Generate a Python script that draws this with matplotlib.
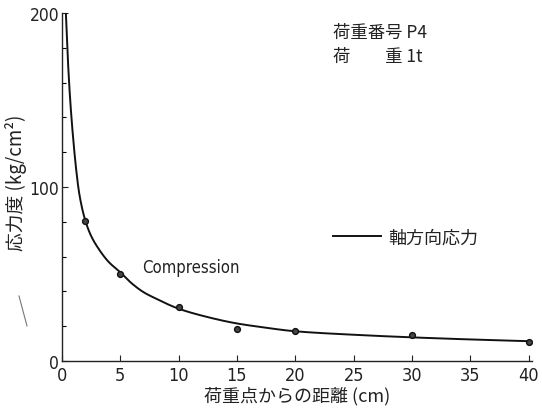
import matplotlib
matplotlib.use("Agg")
import matplotlib.pyplot as plt
from matplotlib.ticker import MultipleLocator
import numpy as np

plt.rcParams['font.family'] = ['Noto Sans CJK JP', 'DejaVu Sans']

# measured points
dist = [2, 5, 10, 15, 20, 30, 40]
stress = [80.5, 50, 31, 18.4, 17.2, 15, 11]

# fitted curve
curve_x = [0.35, 0.5, 0.7, 0.85, 1.0, 1.2, 1.5, 2.0, 2.5, 3.0, 4.0, 5.0, 6.0, 7.0,
           8.0, 10, 12, 15, 17, 20, 25, 30, 35, 40]
curve_y = [200, 176, 152, 138, 126, 112, 96, 81, 72, 66, 57, 51, 44.5, 39.5,
           36, 30, 26, 21.5, 19.5, 17, 15, 13.5, 12.3, 11.3]

xticks = [0, 5, 10, 15, 20, 25, 30, 35, 40]
yticks = [0, 100, 200]


def pchip(x, y, xs):
    """Monotone cubic (Fritsch-Carlson) rendering of the read-off curve."""
    x = np.asarray(x, float); y = np.asarray(y, float)
    h = np.diff(x); d = np.diff(y) / h
    m = np.zeros_like(y)
    for k in range(1, len(x) - 1):
        if d[k - 1] * d[k] > 0:
            w1 = 2 * h[k] + h[k - 1]; w2 = h[k] + 2 * h[k - 1]
            m[k] = (w1 + w2) / (w1 / d[k - 1] + w2 / d[k])
    m[0] = d[0]; m[-1] = d[-1]
    idx = np.clip(np.searchsorted(x, xs) - 1, 0, len(h) - 1)
    t = (xs - x[idx]) / h[idx]
    h00 = 2*t**3 - 3*t**2 + 1; h10 = t**3 - 2*t**2 + t
    h01 = -2*t**3 + 3*t**2; h11 = t**3 - t**2
    return h00*y[idx] + h10*h[idx]*m[idx] + h01*y[idx+1] + h11*h[idx]*m[idx+1]


fig = plt.figure(figsize=(5.42, 4.14), dpi=100)
ax = fig.add_axes([0.114, 0.126, 0.868, 0.840])

xs = np.geomspace(curve_x[0], curve_x[-1], 600)
ax.plot(xs, pchip(curve_x, curve_y, xs), color='#111111', lw=1.4, solid_capstyle='round')
ax.plot(dist, stress, 'o', ms=4.2, mfc='#444444', mec='#111111', mew=1.0, ls='none')

ax.set_xlim(0, 40.3)
ax.set_ylim(0, 200)
ax.set_xticks(xticks)
ax.set_yticks(yticks)
ax.yaxis.set_minor_locator(MultipleLocator(20))
ax.tick_params(axis='both', direction='in', length=4, width=0.8, labelsize=13,
               colors='#222222')
ax.tick_params(axis='y', which='minor', direction='in', length=3, width=0.8)
ax.tick_params(axis='y', labelsize=12.5)
ax.tick_params(axis='x', pad=4)
ax.tick_params(axis='y', pad=2)
for lab in ax.get_xticklabels() + ax.get_yticklabels():
    lab.set_family('DejaVu Sans')
    lab.set_fontstretch('condensed')
for s in ['top', 'right']:
    ax.spines[s].set_visible(False)
for s in ['left', 'bottom']:
    ax.spines[s].set_linewidth(1.0)
    ax.spines[s].set_color('#222222')

ax.set_xlabel('荷重点からの距離 (cm)', fontsize=13, labelpad=1, color='#222222')
ax.set_ylabel('応力度 (kg/cm²)', fontsize=13.5, color='#222222')
ax.yaxis.set_label_coords(-0.074, 0.515)

fig.text(333/542, 1-33/414, '荷重番号 P4', fontsize=12.5, va='center', ha='left', color='#222222')
fig.text(333/542, 1-57/414, '荷\u3000\u3000重 1t', fontsize=12.5, va='center', ha='left', color='#222222')
fig.lines.append(plt.Line2D([333/542, 381/542], [1-237/414, 1-237/414],
                            transform=fig.transFigure, color='#111111', lw=1.4))
fig.text(388/542, 1-239/414, '軸方向応力', fontsize=13, va='center', ha='left', color='#222222')
fig.text(142/542, 1-268/414, 'Compression', fontsize=12, va='center', ha='left',
         family='DejaVu Sans', fontstretch='condensed', color='#222222')

# scan streak
fig.lines.append(plt.Line2D([19/542, 27/542], [1-297/414, 1-327/414],
                            transform=fig.transFigure, color='#777777', lw=0.8))

fig.savefig('out.png', dpi=100)
